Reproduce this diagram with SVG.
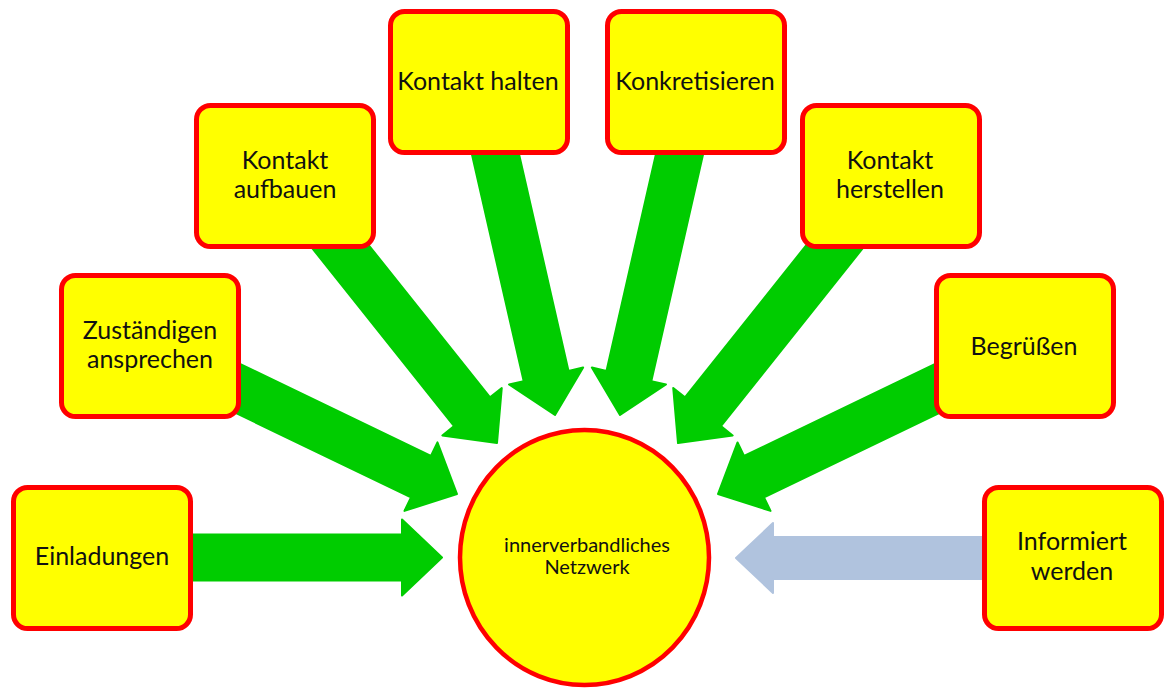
<svg xmlns="http://www.w3.org/2000/svg" width="1165" height="689" viewBox="0 0 1165 689">
<style>
.box{fill:#FFFF00;stroke:#FF0000;stroke-width:5}
.hub{fill:#FFFF00;stroke:#FF0000;stroke-width:4.5}
.t{font-family:Lato,"Open Sans","Liberation Sans",sans-serif;font-size:25px;fill:#111;text-anchor:middle}
.ts{font-family:Lato,"Open Sans","Liberation Sans",sans-serif;font-size:20px;fill:#111;text-anchor:middle}
.g{fill:#00CC00;stroke:#00CC00;stroke-width:2;stroke-linejoin:round}
.b{fill:#B0C3DE;stroke:#B0C3DE;stroke-width:2;stroke-linejoin:round}
</style>
<defs>
<path id="ga" d="M-300,-23 L-40,-23 L-40,-38 L0,0 L-40,38 L-40,23 L-300,23 Z"/>
<path id="ba" d="M-300,-21 L-37,-21 L-37,-35 L0,0 L-37,35 L-37,21 L-300,21 Z"/>
</defs>
<g id="connectors">
<use href="#ga" class="g" transform="translate(442,557.5)"/>
<use href="#ga" class="g" transform="translate(457,494) rotate(25.71)"/>
<use href="#ga" class="g" transform="translate(497,443) rotate(51.43)"/>
<use href="#ga" class="g" transform="translate(555,415) rotate(77.14)"/>
<use href="#ga" class="g" transform="translate(620,415) rotate(102.86)"/>
<use href="#ga" class="g" transform="translate(678,443) rotate(128.57)"/>
<use href="#ga" class="g" transform="translate(718,494) rotate(154.29)"/>
<use href="#ba" class="b" transform="translate(736,558) rotate(180)"/>
</g>
<g id="hub">
<ellipse class="hub" cx="584.5" cy="557.5" rx="124.5" ry="127.5"/>
<text class="ts" x="587" y="552">innerverbandliches</text>
<text class="ts" x="587" y="574">Netzwerk</text>
</g>
<g id="einladungen">
<rect class="box" x="13.5" y="487.5" width="177" height="141" rx="14"/>
<text class="t" x="102" y="565">Einladungen</text>
</g>
<g id="zustaendigen">
<rect class="box" x="61.5" y="275.5" width="177" height="141" rx="14"/>
<text class="t" x="150" y="339">Zuständigen</text>
<text class="t" x="150" y="368">ansprechen</text>
</g>
<g id="kontakt-aufbauen">
<rect class="box" x="196.5" y="105.5" width="177" height="141" rx="14"/>
<text class="t" x="285" y="169">Kontakt</text>
<text class="t" x="285" y="198">aufbauen</text>
</g>
<g id="kontakt-halten">
<rect class="box" x="390.5" y="11.5" width="177" height="141" rx="14"/>
<text class="t" x="478" y="90">Kontakt halten</text>
</g>
<g id="konkretisieren">
<rect class="box" x="607.5" y="11.5" width="177" height="141" rx="14"/>
<text class="t" x="695" y="90">Konkretisieren</text>
</g>
<g id="kontakt-herstellen">
<rect class="box" x="802.5" y="105.5" width="177" height="141" rx="14"/>
<text class="t" x="890" y="169">Kontakt</text>
<text class="t" x="890" y="198">herstellen</text>
</g>
<g id="begruessen">
<rect class="box" x="936.5" y="275.5" width="177" height="141" rx="14"/>
<text class="t" x="1024" y="355">Begrüßen</text>
</g>
<g id="informiert-werden">
<rect class="box" x="984.5" y="487.5" width="177" height="141" rx="14"/>
<text class="t" x="1072" y="550">Informiert</text>
<text class="t" x="1072" y="580">werden</text>
</g>
</svg>
